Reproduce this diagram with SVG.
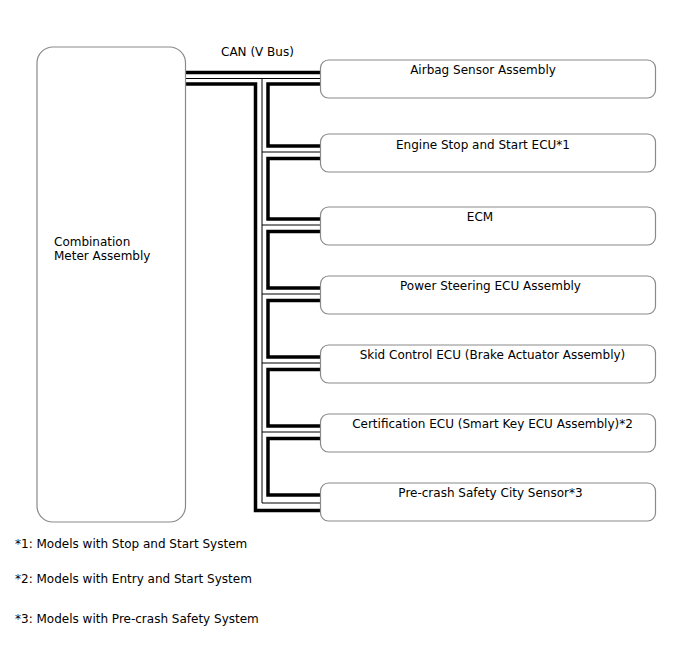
<svg xmlns="http://www.w3.org/2000/svg" width="688" height="658" viewBox="0 0 688 658">
<style>
.box{fill:#fff;stroke:#8a8a8a;stroke-width:1.2}
.t{font-family:"DejaVu Sans",sans-serif;font-size:12px;fill:#000}
.m{text-anchor:middle}
.thick{fill:none;stroke:#000;stroke-width:3.5;stroke-linejoin:miter}
.thin{fill:none;stroke:#000;stroke-width:1}
</style>
<rect width="688" height="658" fill="#fff"/>
<g id="connectors">
<path class="thick" d="M186,72.5H320"/>
<path class="thin" d="M186,78.5H320M262,78.5V503H320"/>
<path class="thick" d="M186,84H255.5V510.5H320"/>
<path class="thin" d="M262,152H320M262,225H320M262,294H320M262,363H320M262,432H320"/>
<path class="thick" d="M320,84H268V146H320"/>
<path class="thick" d="M320,158.5H268V219H320"/>
<path class="thick" d="M320,231.5H268V288H320"/>
<path class="thick" d="M320,300.5H268V357H320"/>
<path class="thick" d="M320,369.5H268V426H320"/>
<path class="thick" d="M320,438.5H268V495H320"/>
</g>
<g id="meter">
<rect class="box" x="37" y="47" width="148.5" height="475" rx="16"/>
<text class="t" x="54" y="246">Combination</text>
<text class="t" x="54" y="260">Meter Assembly</text>
</g>
<text class="t" x="221" y="56">CAN (V Bus)</text>
<g id="airbag">
<rect class="box" x="320.5" y="60" width="335" height="38" rx="8"/>
<text class="t m" x="483" y="74">Airbag Sensor Assembly</text>
</g>
<g id="engine">
<rect class="box" x="320.5" y="134" width="335" height="38" rx="8"/>
<text class="t m" x="483" y="149">Engine Stop and Start ECU*1</text>
</g>
<g id="ecm">
<rect class="box" x="320.5" y="207" width="335" height="38" rx="8"/>
<text class="t m" x="480" y="221">ECM</text>
</g>
<g id="eps">
<rect class="box" x="320.5" y="276" width="335" height="38" rx="8"/>
<text class="t m" x="490.5" y="290">Power Steering ECU Assembly</text>
</g>
<g id="skid">
<rect class="box" x="320.5" y="345" width="335" height="38" rx="8"/>
<text class="t m" x="492.5" y="359">Skid Control ECU (Brake Actuator Assembly)</text>
</g>
<g id="cert">
<rect class="box" x="320.5" y="414" width="335" height="38" rx="8"/>
<text class="t m" x="492.5" y="428">Certification ECU (Smart Key ECU Assembly)*2</text>
</g>
<g id="precrash">
<rect class="box" x="320.5" y="483" width="335" height="38" rx="8"/>
<text class="t m" x="490.5" y="497">Pre-crash Safety City Sensor*3</text>
</g>
<g id="notes">
<text class="t" x="15" y="548">*1: Models with Stop and Start System</text>
<text class="t" x="15" y="583">*2: Models with Entry and Start System</text>
<text class="t" x="15" y="623">*3: Models with Pre-crash Safety System</text>
</g>
</svg>
